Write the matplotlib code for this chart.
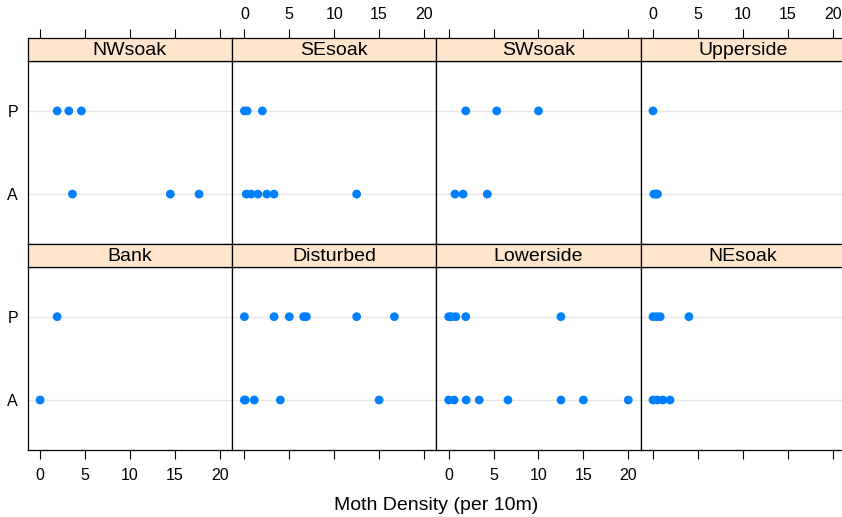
import matplotlib
matplotlib.use("Agg")
import matplotlib.pyplot as plt

plt.rcParams['font.family'] = ['Liberation Sans', 'DejaVu Sans']

# habitats in panel order (top row left->right, then bottom row)
habitats = ["NWsoak", "SEsoak", "SWsoak", "Upperside",
            "Bank", "Disturbed", "Lowerside", "NEsoak"]
levels = ["A", "P"]

# moth densities, per habitat, for A and P
dens_A = {
    "NWsoak": [3.6, 14.5, 17.7],
    "SEsoak": [0.2, 0.75, 1.5, 2.5, 3.3, 12.5],
    "SWsoak": [0.7, 1.6, 4.3],
    "Upperside": [0.1, 0.3, 0.5],
    "Bank": [0.0],
    "Disturbed": [0.0, 0.1, 1.1, 4.0, 15.0],
    "Lowerside": [0.0, 0.6, 1.95, 3.4, 6.6, 12.5, 15.0, 20.0],
    "NEsoak": [0.0, 0.5, 1.1, 1.9],
}
dens_P = {
    "NWsoak": [1.9, 3.2, 4.6],
    "SEsoak": [0.0, 0.3, 2.0],
    "SWsoak": [1.9, 5.35, 10.0],
    "Upperside": [0.0],
    "Bank": [1.9],
    "Disturbed": [0.0, 3.3, 5.0, 6.6, 6.9, 12.5, 16.7],
    "Lowerside": [0.0, 0.3, 0.8, 1.9, 12.5],
    "NEsoak": [0.0, 0.4, 0.8, 4.0],
}
xticks = [0, 5, 10, 15, 20]

W, H = 842, 517
fig = plt.figure(figsize=(W / 100, H / 100), dpi=100)

left0 = 27.7
colw = 204.3
rows = [(38.0, 61.0, 244.0), (244.0, 266.7, 450.0)]  # strip top, panel top, panel bottom
dot_col = "#0080ff"
strip_col = "#ffe5cc"
tick_fs = 11.5
text_fs = 14


def box(x0, y0, x1, y1):
    return [x0 / W, 1 - y1 / H, (x1 - x0) / W, (y1 - y0) / H]


for i, hab in enumerate(habitats):
    r, c = divmod(i, 4)
    st, pt, pb = rows[r]
    x0 = left0 + c * colw
    x1 = x0 + colw

    ax = fig.add_axes(box(x0, pt, x1, pb))
    ax.set_xlim(-1.38, 21.37)
    ax.set_ylim(0.4, 2.6)
    for k, lev in enumerate(levels):
        ax.axhline(k + 1, color="#e6e6e6", lw=1, zorder=1)
    ax.scatter(dens_A[hab], [1] * len(dens_A[hab]), s=40, color=dot_col,
               edgecolors="none", zorder=3, clip_on=False)
    ax.scatter(dens_P[hab], [2] * len(dens_P[hab]), s=40, color=dot_col,
               edgecolors="none", zorder=3, clip_on=False)
    for sp in ax.spines.values():
        sp.set_color("black")
        sp.set_linewidth(0.9)

    ax.set_xticks(xticks)
    ax.set_yticks([1, 2])
    if c == 0:
        ax.set_yticklabels(levels, fontsize=tick_fs)
        ax.tick_params(axis="y", length=0, pad=7)
    else:
        ax.set_yticklabels([])
        ax.tick_params(axis="y", length=0)

    if r == 1:
        ax.tick_params(axis="x", direction="out", length=6.2, width=0.8,
                       labelsize=tick_fs, pad=7, top=False, bottom=True,
                       labelbottom=(c % 2 == 0), labeltop=False)
    else:
        ax.tick_params(axis="x", bottom=False, labelbottom=False)

    # strip on top
    sax = fig.add_axes(box(x0, st, x1, pt))
    sax.set_xlim(0, 1)
    sax.set_ylim(0, 1)
    sax.set_facecolor(strip_col)
    sax.set_xticks([])
    sax.set_yticks([])
    for sp in sax.spines.values():
        sp.set_color("black")
        sp.set_linewidth(0.9)
    sax.text(0.5, 0.45, hab, ha="center", va="center", fontsize=text_fs)

    if r == 0:
        # top axis ticks sit above the strip
        tax = sax.twiny()
        tax.set_xlim(-1.38, 21.37)
        tax.set_xticks(xticks)
        tax.tick_params(axis="x", direction="out", length=6.2, width=0.8,
                        labelsize=tick_fs, pad=5,
                        labeltop=(c % 2 == 1))
        if c % 2 == 0:
            tax.set_xticklabels([])
        for sp in tax.spines.values():
            sp.set_visible(False)

fig.text(436 / W, 1 - 505 / H, "Moth Density (per 10m)", ha="center",
         va="center", fontsize=text_fs)

fig.savefig("out.png", dpi=100)
